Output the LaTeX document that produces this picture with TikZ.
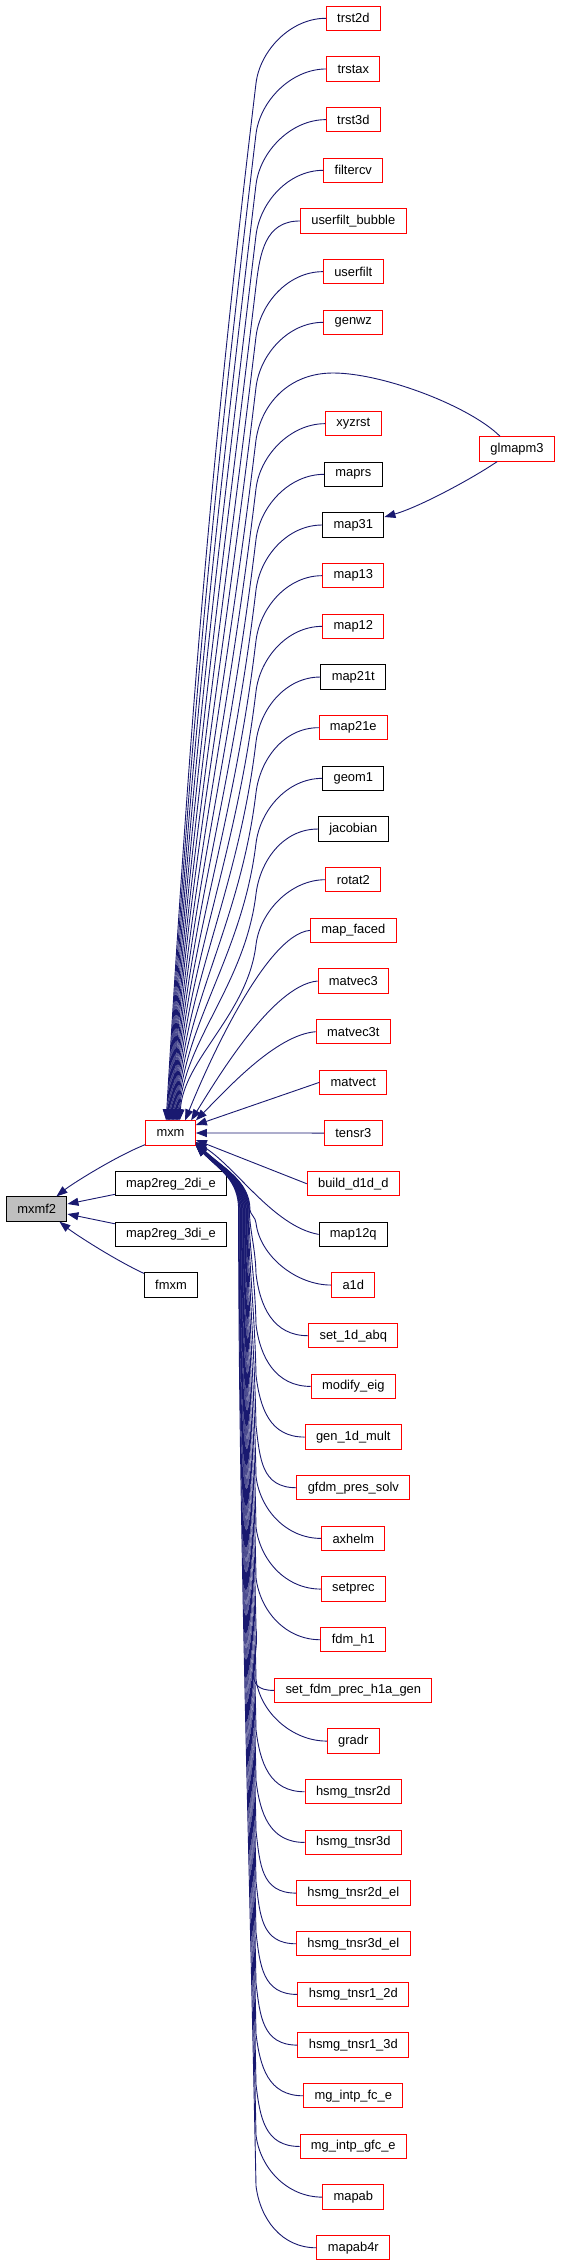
\documentclass[tikz,border=0pt]{standalone}
\usepackage{fontspec}
\setmainfont{Liberation Sans}
\usetikzlibrary{arrows.meta, calc}

\definecolor{callblue}{HTML}{191970}
\definecolor{rootgray}{HTML}{BFBFBF}

\begin{document}
\begin{tikzpicture}[x=1pt, y=-1pt, >={Stealth[length=11pt, width=8pt, inset=0pt]},
  func/.style={draw=#1, line width=1pt, fill=white, minimum height=24.3pt,
    inner xsep=10.9pt, inner ysep=0pt, font=\fontsize{12.9}{15}\selectfont},
  func/.default=red,
  call/.style={->, draw=callblue, line width=0.9pt}]
  \path[fill=white, use as bounding box] (0,0) rectangle (560,2267);

  % Callers of mxm, one per row
  \foreach \n/\t/\r/\c in {
      trst2d/trst2d/0/red, trstax/trstax/1/red, trst3d/trst3d/2/red,
      filtercv/filtercv/3/red, userfilt_bubble/userfilt\_bubble/4/red,
      userfilt/userfilt/5/red, genwz/genwz/6/red, xyzrst/xyzrst/8/red,
      maprs/maprs/9/black, map31/map31/10/black, map13/map13/11/red,
      map12/map12/12/red, map21t/map21t/13/black, map21e/map21e/14/red,
      geom1/geom1/15/black, jacobian/jacobian/16/black, rotat2/rotat2/17/red,
      map_faced/map\_faced/18/red, matvec3/matvec3/19/red,
      matvec3t/matvec3t/20/red, matvect/matvect/21/red, tensr3/tensr3/22/red,
      build_d1d_d/build\_d1d\_d/23/red, map12q/map12q/24/black,
      a1d/a1d/25/red, set_1d_abq/set\_1d\_abq/26/red,
      modify_eig/modify\_eig/27/red, gen_1d_mult/gen\_1d\_mult/28/red,
      gfdm_pres_solv/gfdm\_pres\_solv/29/red, axhelm/axhelm/30/red,
      setprec/setprec/31/red, fdm_h1/fdm\_h1/32/red,
      set_fdm_prec_h1a_gen/set\_fdm\_prec\_h1a\_gen/33/red, gradr/gradr/34/red,
      hsmg_tnsr2d/hsmg\_tnsr2d/35/red, hsmg_tnsr3d/hsmg\_tnsr3d/36/red,
      hsmg_tnsr2d_el/hsmg\_tnsr2d\_el/37/red,
      hsmg_tnsr3d_el/hsmg\_tnsr3d\_el/38/red,
      hsmg_tnsr1_2d/hsmg\_tnsr1\_2d/39/red,
      hsmg_tnsr1_3d/hsmg\_tnsr1\_3d/40/red,
      mg_intp_fc_e/mg\_intp\_fc\_e/41/red,
      mg_intp_gfc_e/mg\_intp\_gfc\_e/42/red,
      mapab/mapab/43/red, mapab4r/mapab4r/44/red}
    \node[func=\c] (\n) at (353.3, {18.3+50.67*\r}) {\t};

  % Left part of the graph
  \node[func] (mxm) at (170.5,1133) {mxm};
  \node[func=black] (map2reg_2di_e) at (171,1183.7) {map2reg\_2di\_e};
  \node[func=black] (map2reg_3di_e) at (171,1234.4) {map2reg\_3di\_e};
  \node[func=black] (fmxm) at (171,1285) {fmxm};
  \node[func=black, fill=rootgray] (mxmf2) at (36.7,1209) {mxmf2};
  \node[func] (glmapm3) at (517,449) {glmapm3};

  % Far callers above mxm: short bend, then long drop
  \foreach \n/\r in {trst2d/0, trstax/1, trst3d/2, filtercv/3,
      userfilt_bubble/4, userfilt/5, genwz/6, xyzrst/8, maprs/9, map31/10,
      map13/11, map12/12, map21t/13, map21e/14, geom1/15, jacobian/16,
      rotat2/17}{
    \pgfmathsetmacro\ky{83.3+50.67*\r}
    \pgfmathsetmacro\la{0.4*(1120-\ky)}
    \pgfmathsetmacro\lb{0.35*(1120-\ky)}
    \pgfmathsetmacro\ex{21+0.8*\r}
    \draw[call] (\n.west) .. controls +(-35,0) and +(4,-33) .. (256,\ky)
      .. controls +({-0.12*\la},\la) and +({0.06*\lb},-\lb)
      .. ($(mxm.north west)+(\ex,0)$);
  }
  \draw[call] ($(glmapm3.north west)+(21,0)$) .. controls +(-30,-30) and +(50,0) .. (333,373)
    .. controls +(-45,0) and +(5,-35) .. (256,440)
    .. controls +(-33,272) and +(14,-238) .. ($(mxm.north west)+(26.6,0)$);
  \draw[call] ($(glmapm3.south west)+(18,0)$) .. controls +(-25,17) and +(35,-10)
    .. ($(map31.east)+(0,-8)$);

  % Near callers
  \draw[call] (map_faced.west) .. controls +(-45,4) and +(20,-50) .. ($(mxm.north west)+(40,0)$);
  \draw[call] (matvec3.west) .. controls +(-45,4) and +(25,-40) .. ($(mxm.north west)+(46,0)$);
  \draw[call] (matvec3t.west) .. controls +(-40,3) and +(30,-30) .. (mxm.north east);
  \draw[call] (matvect.west) -- ($(mxm.east)+(0,-8)$);
  \draw[call] (tensr3.west) -- (mxm.east);
  \draw[call] (build_d1d_d.west) -- ($(mxm.east)+(0,7)$);
  \draw[call] (map12q.west) .. controls +(-45,-8) and +(40,25) .. ($(mxm.east)+(0,9)$);

  % Far callers below mxm: bend up, long climb, then into mxm
  \foreach \n/\r in {a1d/25, set_1d_abq/26, modify_eig/27, gen_1d_mult/28,
      gfdm_pres_solv/29, axhelm/30, setprec/31, fdm_h1/32,
      set_fdm_prec_h1a_gen/33, gradr/34, hsmg_tnsr2d/35, hsmg_tnsr3d/36,
      hsmg_tnsr2d_el/37, hsmg_tnsr3d_el/38, hsmg_tnsr1_2d/39,
      hsmg_tnsr1_3d/40, mg_intp_fc_e/41, mg_intp_gfc_e/42, mapab/43,
      mapab4r/44}{
    \pgfmathsetmacro\ky{18.3+50.67*\r-62}
    \pgfmathsetmacro\kx{250-0.6*(\r-25)}
    \pgfmathsetmacro\la{0.4*(\ky-1210)}
    \pgfmathsetmacro\lb{0.3*(\ky-1210)}
    \pgfmathsetmacro\ey{9+0.2*(\r-25)}
    \draw[call] (\n.west) .. controls +(-35,0) and +(4,33) .. (256,\ky)
      .. controls +({-0.02*\la},-\la) and +(0,\lb) .. (\kx,1210)
      .. controls +(0,-30) and +(25,25) .. ($(mxm.east)+(0,\ey)$);
  }

  % Callers of mxmf2
  \draw[call] ($(mxm.south west)+(0,-1)$) .. controls +(-30,12) and +(15,-12)
    .. ($(mxmf2.north east)+(-11,0)$);
  \draw[call] ($(map2reg_2di_e.south west)+(0,-2)$) -- ($(mxmf2.east)+(0,-5)$);
  \draw[call] ($(map2reg_3di_e.north west)+(0,2)$) -- ($(mxmf2.east)+(0,5)$);
  \draw[call] ($(fmxm.north west)+(0,1)$) .. controls +(-30,-14) and +(15,12)
    .. ($(mxmf2.south east)+(-8,0)$);
\end{tikzpicture}
\end{document}
